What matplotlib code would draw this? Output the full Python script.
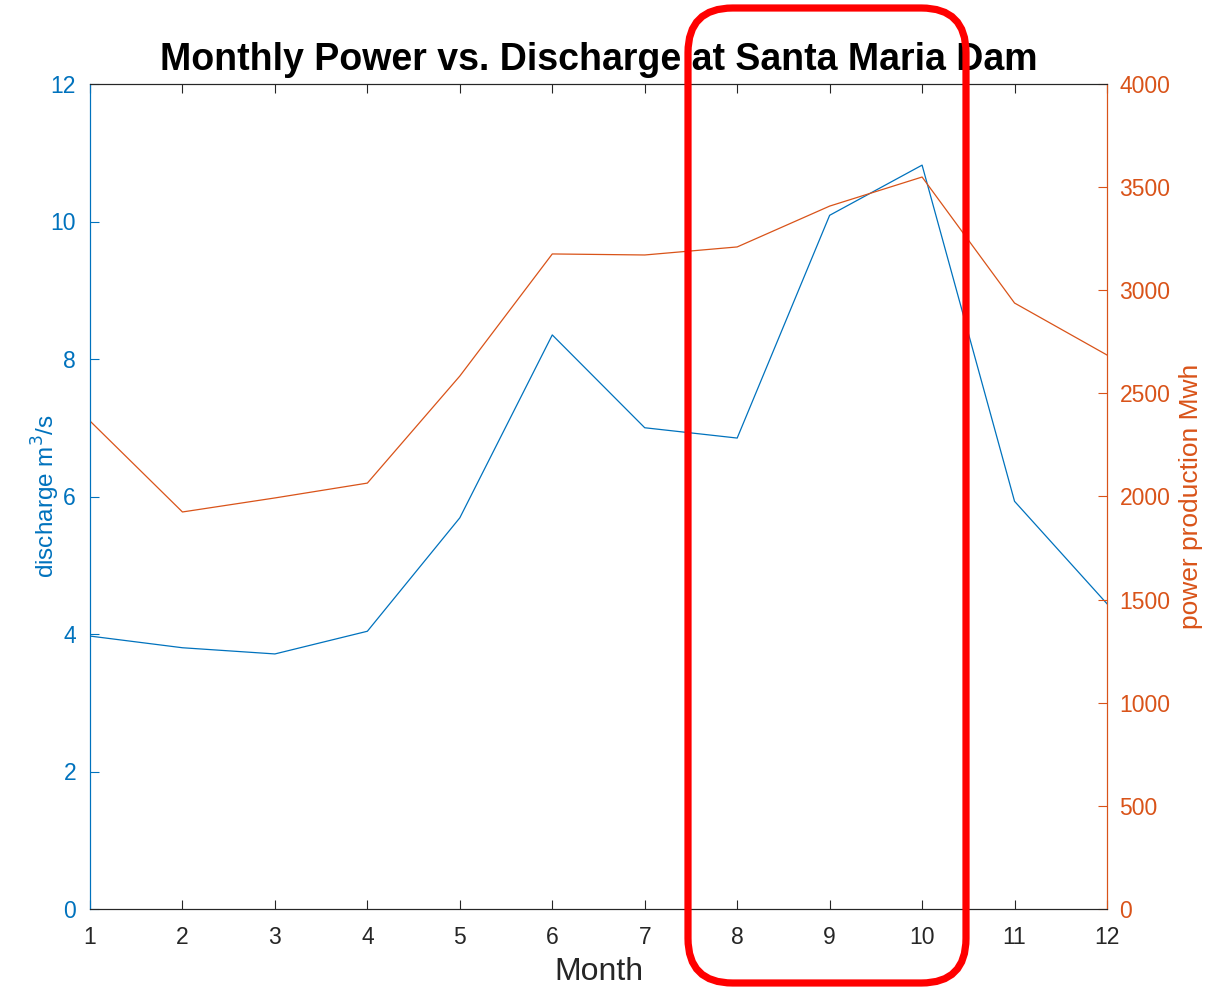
import matplotlib
matplotlib.use("Agg")
import matplotlib.pyplot as plt
from matplotlib.patches import FancyBboxPatch

months = [1, 2, 3, 4, 5, 6, 7, 8, 9, 10, 11, 12]
discharge = [3.97, 3.80, 3.71, 4.04, 5.69, 8.35, 7.00, 6.85, 10.09, 10.82, 5.93, 4.44]
power = [2366, 1925, 1993, 2065, 2584, 3176, 3171, 3210, 3408, 3549, 2938, 2686]
left_ticks = [0, 2, 4, 6, 8, 10, 12]
right_ticks = [0, 500, 1000, 1500, 2000, 2500, 3000, 3500, 4000]

BLUE = "#0072BD"
ORANGE = "#D95319"
DARK = "#262626"

plt.rcParams['font.family'] = ['Liberation Sans', 'DejaVu Sans']

W, H = 1207, 989
fig = plt.figure(figsize=(W / 100, H / 100), dpi=100)
ax = fig.add_axes([90 / W, 1 - 909 / H, (1107 - 90) / W, (909 - 84) / H])
ax2 = ax.twinx()

ax.plot(months, discharge, color=BLUE, lw=0.9)
ax2.plot(months, power, color=ORANGE, lw=0.9)

ax.set_xlim(1, 12)
ax.set_ylim(0, 12)
ax2.set_ylim(0, 4000)
ax.set_xticks(months)
ax.set_yticks(left_ticks)
ax2.set_yticks(right_ticks)

ax.tick_params(axis='x', direction='in', length=6.5, width=0.8, color=DARK,
               labelcolor=DARK, labelsize=16.5, pad=12, top=True)
ax.tick_params(axis='y', direction='in', length=6.5, width=0.8, color=BLUE,
               labelcolor=BLUE, labelsize=16.5, pad=10)
ax2.tick_params(axis='y', direction='in', length=6.5, width=0.8, color=ORANGE,
                labelcolor=ORANGE, labelsize=16.5, pad=9)

for a in (ax, ax2):
    a.spines['top'].set_color(DARK)
    a.spines['bottom'].set_color(DARK)
    a.spines['left'].set_color(BLUE)
    a.spines['right'].set_color(ORANGE)
    for s in a.spines.values():
        s.set_linewidth(0.8)

ax.set_xlabel("Month", fontsize=23, color=DARK, labelpad=6)
ax.set_ylabel("discharge m$^3$/s", fontsize=17.5, color=BLUE, labelpad=-8)
ax2.set_ylabel("power production Mwh", fontsize=19, color=ORANGE, labelpad=6)
ax.set_title("Monthly Power vs. Discharge at Santa Maria Dam", fontsize=27,
             fontweight='bold', color='black', pad=10)

# red rounded highlight box (annotation, figure pixel coordinates)
x0, x1, y0, y1 = 688, 966, 8, 983
box = FancyBboxPatch((x0 / W, 1 - y1 / H), (x1 - x0) / W, (y1 - y0) / H,
                     boxstyle="round,pad=0,rounding_size=0.037",
                     transform=fig.transFigure, fill=False,
                     edgecolor="#FF0000", linewidth=5.2, zorder=10,
                     mutation_aspect=W / H)
fig.patches.append(box)

fig.savefig("out.png", dpi=100)
